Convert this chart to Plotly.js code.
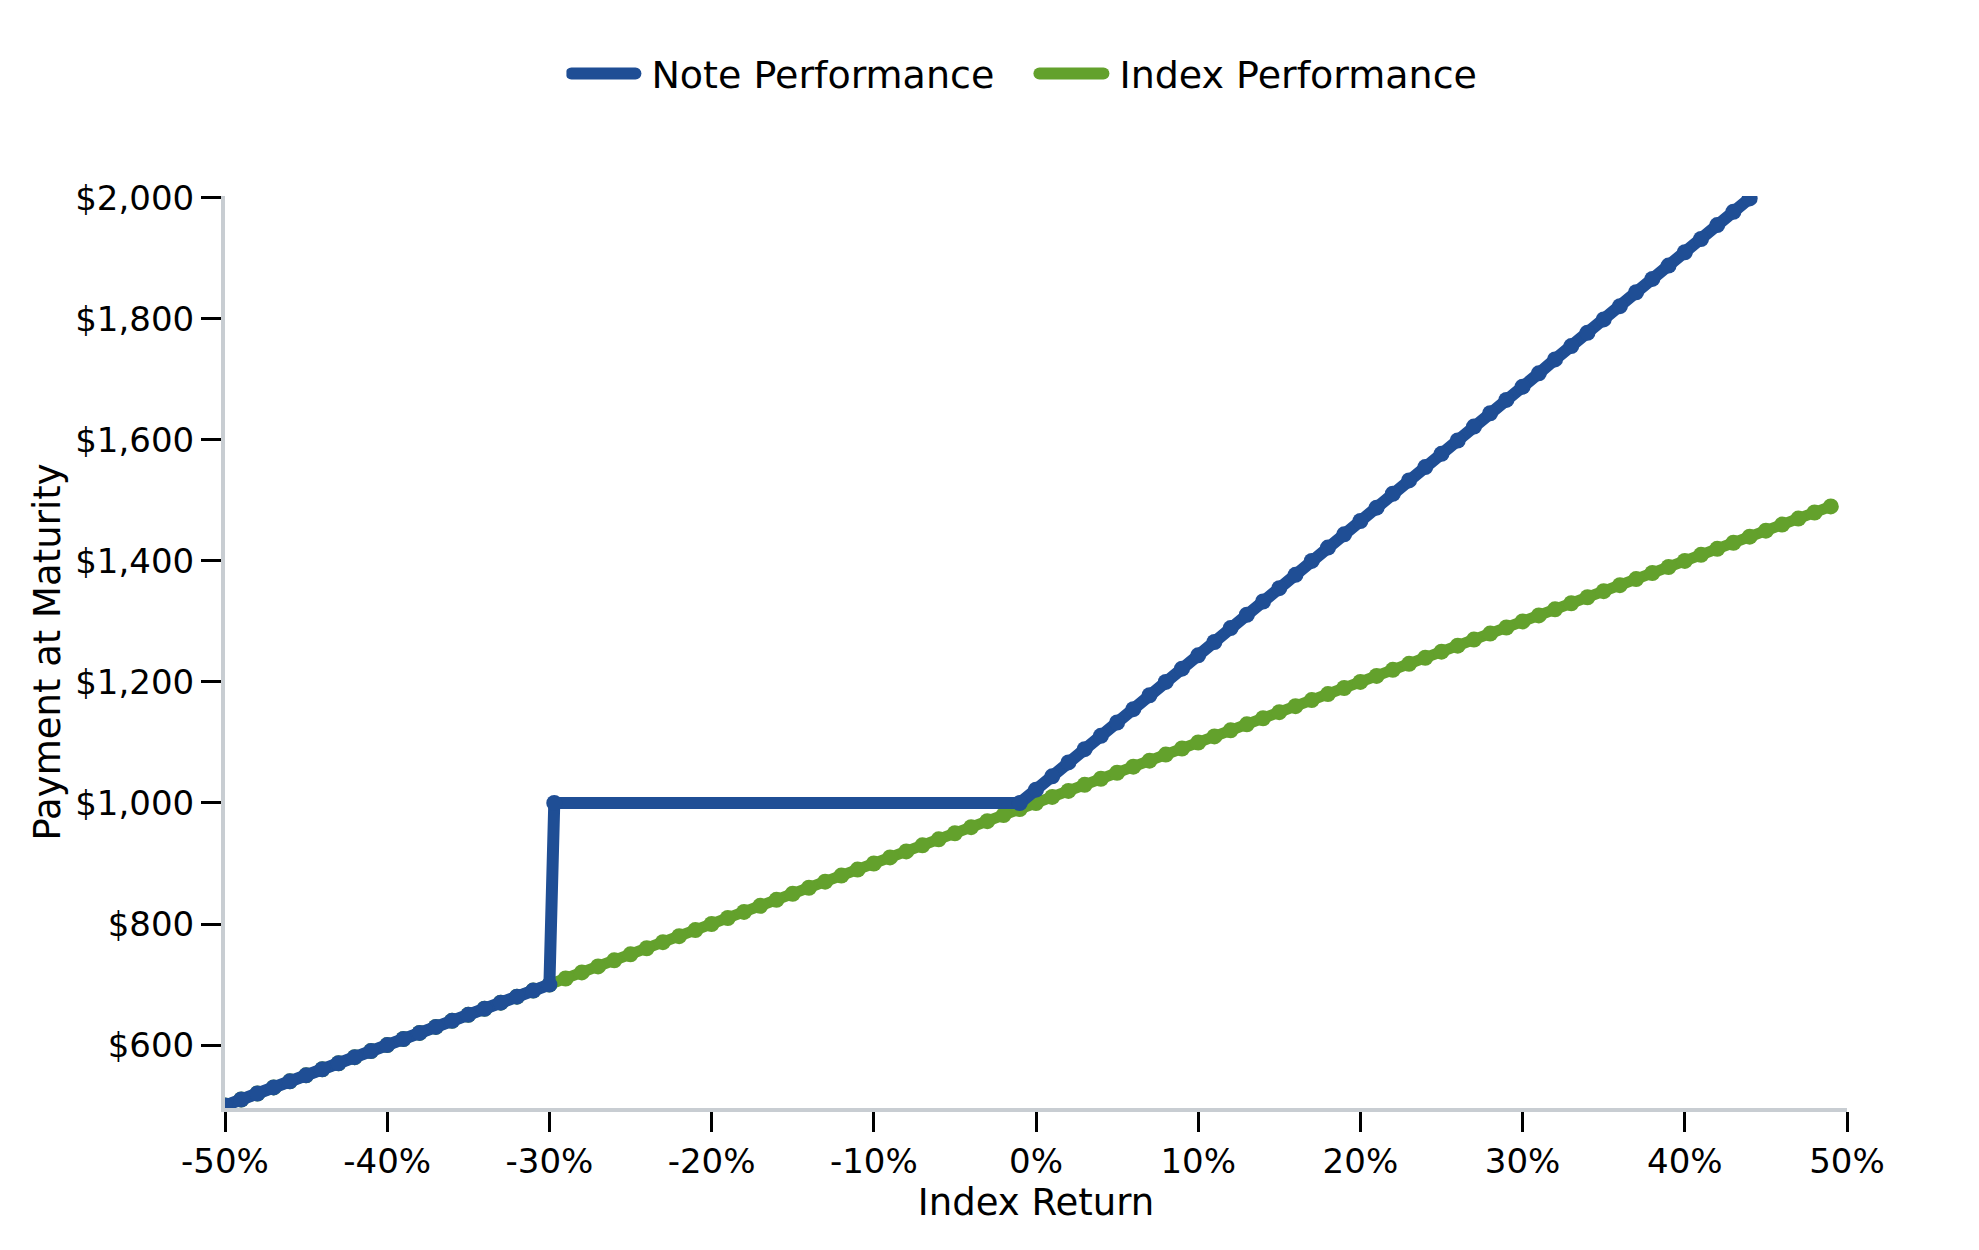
<!DOCTYPE html>
<html>
<head>
<meta charset="utf-8">
<script src="https://cdn.plot.ly/plotly-3.0.1.min.js"></script>
<style>
  html, body { margin: 0; padding: 0; background: #fff; }
  #graph { width: 1979px; height: 1250px; }
  .scatterlayer .js-line { stroke-linejoin: round; stroke-linecap: round; }
  .legendlines path { stroke-linecap: round; stroke-width: 12px !important; }
  .legendtext { transform: translateX(11px); }
</style>
</head>
<body>
<div id="graph"></div>
<script>
// index return (%) and payment at maturity ($)
var indexX = [-50,-49,-48,-47,-46,-45,-44,-43,-42,-41,-40,-39,-38,-37,-36,-35,-34,-33,-32,-31,
  -30,-29,-28,-27,-26,-25,-24,-23,-22,-21,-20,-19,-18,-17,-16,-15,-14,-13,-12,-11,
  -10,-9,-8,-7,-6,-5,-4,-3,-2,-1,0,1,2,3,4,5,6,7,8,9,
  10,11,12,13,14,15,16,17,18,19,20,21,22,23,24,25,26,27,28,29,
  30,31,32,33,34,35,36,37,38,39,40,41,42,43,44,45,46,47,48,49]
var indexY = [500,510,520,530,540,550,560,570,580,590,600,610,620,630,640,650,660,670,680,690,
  700,710,720,730,740,750,760,770,780,790,800,810,820,830,840,850,860,870,880,890,
  900,910,920,930,940,950,960,970,980,990,1000,1010,1020,1030,1040,1050,1060,1070,1080,1090,
  1100,1110,1120,1130,1140,1150,1160,1170,1180,1190,1200,1210,1220,1230,1240,1250,1260,1270,1280,1290,
  1300,1310,1320,1330,1340,1350,1360,1370,1380,1390,1400,1410,1420,1430,1440,1450,1460,1470,1480,1490]

var noteX = [-50,-49,-48,-47,-46,-45,-44,-43,-42,-41,-40,-39,-38,-37,-36,-35,-34,-33,-32,-31,-30,
  -29.7,-1,
  0,1,2,3,4,5,6,7,8,9,10,11,12,13,14,15,16,17,18,19,20,21,22,
  23,24,25,26,27,28,29,30,31,32,33,34,35,36,37,38,39,40,41,42,43,44]
var noteY = [500,510,520,530,540,550,560,570,580,590,600,610,620,630,640,650,660,670,680,690,700,
  1000,1000,
  1022,1044,1067,1089,1111,1133,1155,1178,1200,1222,1244,1266,1289,1311,1333,1355,1377,1400,1422,1444,1466,1488,1511,
  1533,1555,1577,1599,1622,1644,1666,1688,1710,1733,1755,1777,1799,1821,1844,1866,1888,1910,1932,1955,1977,1999]

var xTickVals = [-50,-40,-30,-20,-10,0,10,20,30,40,50]
var xTickText = ["-50%","-40%","-30%","-20%","-10%","0%","10%","20%","30%","40%","50%"]
var yTickVals = [600,800,1000,1200,1400,1600,1800,2000]
var yTickText = ["$600","$800","$1,000","$1,200","$1,400","$1,600","$1,800","$2,000"]

var blue = "#1f4e95"
var green = "#63a12c"

var traceIndex = {
  x: indexX, y: indexY, type: "scatter", mode: "lines+markers",
  name: "Index Performance", showlegend: false,
  line: {color: green, width: 11}, marker: {color: green, size: 16}
}
var traceNote = {
  x: noteX, y: noteY, type: "scatter", mode: "lines+markers",
  name: "Note Performance", showlegend: false,
  line: {color: blue, width: 12}, marker: {color: blue, size: 16}
}
// legend entries (line only, like the original)
var legNote = {x: [null], y: [null], type: "scatter", mode: "lines", name: "Note Performance",
  line: {color: blue, width: 10}, legendrank: 1}
var legIndex = {x: [null], y: [null], type: "scatter", mode: "lines", name: "Index Performance",
  line: {color: green, width: 10}, legendrank: 2}

var font = {family: "DejaVu Sans", size: 34, color: "#000"}
var titleFont = {family: "DejaVu Sans", size: 37, color: "#000"}

var layout = {
  width: 1979, height: 1250,
  paper_bgcolor: "#fff", plot_bgcolor: "#fff",
  margin: {l: 225, r: 132, t: 196, b: 142},
  font: font,
  showlegend: true,
  legend: {
    orientation: "h", x: 0.2105, xanchor: "left", y: 1.134, yanchor: "middle",
    font: {family: "DejaVu Sans", size: 38, color: "#000"},
    itemwidth: 64, entrywidth: 389
  },
  xaxis: {
    range: [-50, 50], tickvals: xTickVals, ticktext: xTickText,
    showgrid: false, zeroline: false,
    showline: true, linecolor: "#c8cdd2", linewidth: 4,
    ticks: "outside", ticklen: 20, tickwidth: 3, tickcolor: "#000",
    tickfont: font,
    title: {text: "Index Return", font: titleFont, standoff: 8}
  },
  yaxis: {
    range: [496, 2003], tickvals: yTickVals, ticktext: yTickText,
    showgrid: false, zeroline: false,
    showline: true, linecolor: "#c8cdd2", linewidth: 4,
    ticks: "outside", ticklen: 20, tickwidth: 3, tickcolor: "#000",
    tickfont: font,
    title: {text: "Payment at Maturity", font: titleFont, standoff: 4}
  }
}

Plotly.newPlot("graph", [traceIndex, traceNote, legNote, legIndex], layout, {displayModeBar: false, staticPlot: true})
</script>
</body>
</html>
